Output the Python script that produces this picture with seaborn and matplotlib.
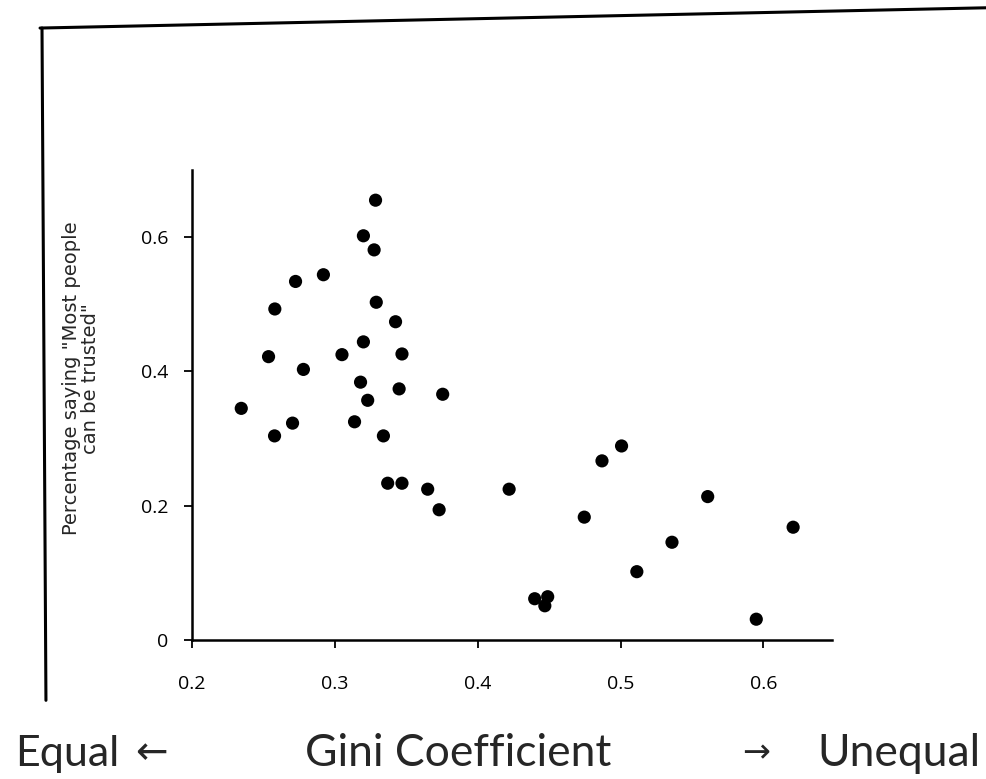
import matplotlib
matplotlib.use("Agg")
import matplotlib.pyplot as plt
from matplotlib.lines import Line2D
import pandas as pd
import seaborn as sns

# Income inequality (Gini) against share of people who say most others can be trusted
gini = [0.3285, 0.320, 0.3275, 0.292, 0.2725, 0.258, 0.329, 0.3425, 0.320,
        0.2536, 0.305, 0.347, 0.278, 0.318, 0.345, 0.3755, 0.323, 0.2345,
        0.2704, 0.3138, 0.2578, 0.334, 0.337, 0.347, 0.365, 0.373, 0.422,
        0.5007, 0.487, 0.4746, 0.561, 0.6208, 0.536, 0.5114, 0.4399, 0.449,
        0.447, 0.595]
trust = [0.655, 0.602, 0.581, 0.544, 0.534, 0.493, 0.503, 0.474, 0.444,
         0.422, 0.425, 0.426, 0.403, 0.384, 0.374, 0.366, 0.357, 0.345,
         0.323, 0.325, 0.304, 0.304, 0.2335, 0.2335, 0.2246, 0.194, 0.2246,
         0.289, 0.2668, 0.183, 0.2136, 0.168, 0.1456, 0.1018, 0.0615, 0.0645,
         0.051, 0.031]

x_ticks = [0.2, 0.3, 0.4, 0.5, 0.6]
x_tick_labels = ["0.2", "0.3", "0.4", "0.5", "0.6"]
y_ticks = [0, 0.2, 0.4, 0.6]
y_tick_labels = ["0", "0.2", "0.4", "0.6"]

df = pd.DataFrame({"gini": gini, "trust": trust})

sns.set_style("ticks")
plt.rcParams["font.family"] = ["Open Sans", "DejaVu Sans"]

fig = plt.figure(figsize=(9.86, 7.79), dpi=100)
ax = fig.add_axes([0.1947, 0.1784, 0.6491, 0.6034])

sns.scatterplot(data=df, x="gini", y="trust", ax=ax, s=90, color="black",
                edgecolor="none", legend=False)

ax.set_xlim(0.2, 0.648)
ax.set_ylim(0, 0.70)
ax.set_xticks(x_ticks)
ax.set_xticklabels(x_tick_labels)
ax.set_yticks(y_ticks)
ax.set_yticklabels(y_tick_labels)

for side in ("top", "right"):
    ax.spines[side].set_visible(False)
for side in ("left", "bottom"):
    ax.spines[side].set_linewidth(1.8)
    ax.spines[side].set_color("black")

ax.tick_params(axis="both", direction="out", length=6, width=1.3,
               colors="black", labelsize=14)
ax.tick_params(axis="x", pad=19)
ax.tick_params(axis="y", pad=11)

ax.set_xlabel("")
ax.set_ylabel('Percentage saying "Most people\ncan be trusted"',
              fontsize=14, linespacing=1.0, family=["DejaVu Sans"])
ax.yaxis.set_label_coords(-0.144, 0.557)

# Caption along the horizontal axis
cap_font = ["Lato", "DejaVu Sans"]
base_y = 0.0167
fig.text(0.0152, base_y, "Equal", fontsize=31, ha="left", va="baseline",
         family=cap_font)
fig.text(0.154, 0.033, "\u2190", fontsize=28, ha="center", va="center",
         family=["DejaVu Sans"])
fig.text(0.4645, base_y, "Gini Coefficient", fontsize=32, ha="center",
         va="baseline", family=cap_font)
fig.text(0.767, 0.033, "\u2192", fontsize=24, ha="center", va="center",
         family=["DejaVu Sans"])
fig.text(0.994, base_y, "Unequal", fontsize=32, ha="right", va="baseline",
         family=cap_font)

# Page edges around the figure
fig.add_artist(Line2D([0.0406, 1.0], [0.964, 0.990], color="black",
                      linewidth=2.2, transform=fig.transFigure))
fig.add_artist(Line2D([0.0426, 0.0466], [0.964, 0.101], color="black",
                      linewidth=2.2, transform=fig.transFigure))

fig.savefig("out.png", dpi=100, facecolor="white")
